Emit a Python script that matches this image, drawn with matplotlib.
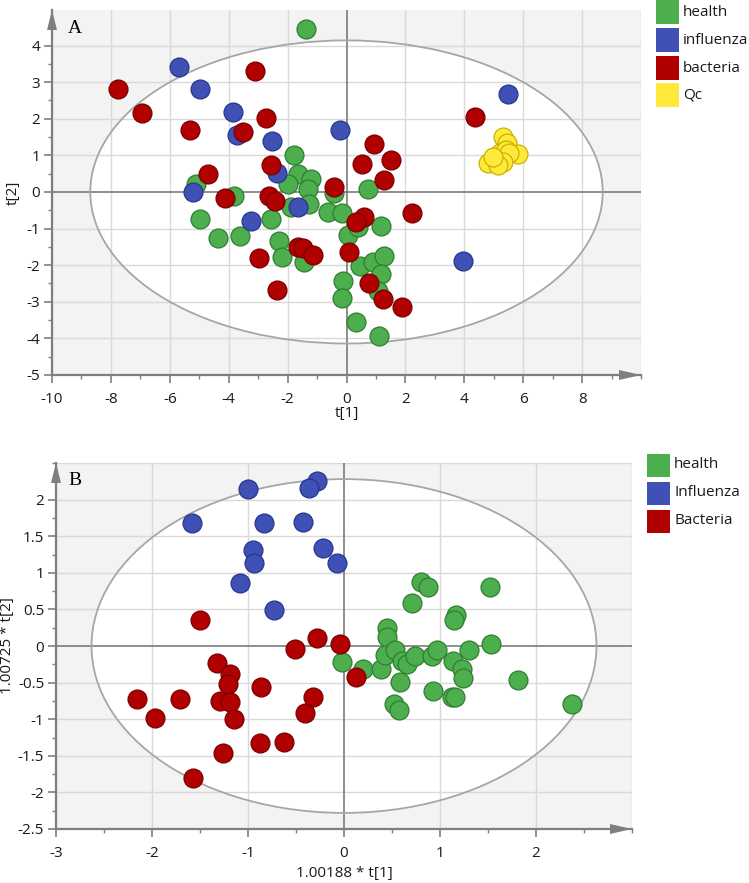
import matplotlib
matplotlib.use("Agg")
import matplotlib.pyplot as plt
import numpy as np
from matplotlib.patches import Ellipse, Polygon, Rectangle
from matplotlib.transforms import ScaledTranslation
from matplotlib.ticker import MultipleLocator, FuncFormatter

plt.rcParams['font.family'] = ['Open Sans', 'DejaVu Sans']

# ---------------- Panel A data ----------------
a_health_x = [-1.37, -1.79, -1.65, -1.20, -1.99, -1.31, -1.26, -1.90, -5.10, -3.82, -4.96, -4.37,
              -3.60, -2.56, -2.29, -2.19, -1.43, -0.63, -0.15, -0.44, 0.72, 0.05, 0.38, 1.18,
              0.47, 0.89, 1.29, 1.18, -0.11, 1.06, -0.16, 0.31, 1.10]
a_health_y = [4.45, 1.01, 0.49, 0.35, 0.21, 0.08, -0.32, -0.41, 0.21, -0.12, -0.74, -1.25,
              -1.19, -0.74, -1.33, -1.77, -1.90, -0.54, -0.58, -0.02, 0.09, -1.17, -0.97, -0.92,
              -2.03, -1.91, -1.75, -2.23, -2.42, -2.70, -2.89, -3.56, -3.93]

a_influenza_x = [-5.69, -4.96, -3.86, -3.71, -2.52, -2.35, -5.22, -3.24, -1.63, -0.21, 5.48, 3.95]
a_influenza_y = [3.40, 2.81, 2.18, 1.56, 1.39, 0.51, 0.00, -0.79, -0.42, 1.69, 2.68, -1.89]

a_bacteria_x = [-7.77, -6.94, -5.33, -3.12, -3.52, -2.73, -4.71, -4.12, -2.56, -2.64, -2.44,
                -2.98, -2.35, -1.65, -1.48, -1.14, -0.41, 0.10, 0.58, 0.31, 4.37, 0.93, 0.52,
                1.52, 1.29, 2.22, 0.78, 1.25, 1.87]
a_bacteria_y = [2.81, 2.17, 1.68, 3.31, 1.64, 2.03, 0.50, -0.16, 0.74, -0.12, -0.26,
                -1.80, -2.68, -1.50, -1.52, -1.72, 0.13, -1.63, -0.69, -0.83, 2.05, 1.30, 0.76,
                0.88, 0.33, -0.58, -2.50, -2.93, -3.13]

a_qc_x = [5.31, 5.45, 5.82, 4.80, 5.08, 5.20, 5.40, 5.53, 5.31, 5.14, 4.97]
a_qc_y = [1.51, 1.35, 1.03, 0.78, 0.89, 1.06, 1.15, 1.06, 0.83, 0.74, 0.96]

a_labels = ["health", "influenza", "bacteria", "Qc"]

# ---------------- Panel B data ----------------
b_health_x = [0.80, 0.87, 0.71, 1.52, 1.17, 1.15, 0.45, 0.45, 1.53, -0.02, 0.20, 0.39,
              0.43, 0.53, 0.60, 0.66, 0.74, 0.92, 0.97, 1.14, 1.23, 1.24, 1.30, 0.58,
              0.93, 1.13, 1.16, 0.52, 0.57, 1.81, 2.38]
b_health_y = [0.88, 0.81, 0.59, 0.81, 0.43, 0.35, 0.24, 0.12, 0.03, -0.22, -0.31, -0.31,
              -0.12, -0.06, -0.20, -0.24, -0.14, -0.13, -0.06, -0.20, -0.31, -0.44, -0.06, -0.49,
              -0.62, -0.69, -0.69, -0.79, -0.87, -0.47, -0.79]

b_influenza_x = [-1.00, -0.28, -0.36, -1.58, -0.83, -0.43, -0.95, -0.94, -0.22, -0.07, -1.08, -0.73]
b_influenza_y = [2.14, 2.26, 2.16, 1.68, 1.68, 1.70, 1.31, 1.13, 1.34, 1.13, 0.86, 0.49]

b_bacteria_x = [-1.50, -0.28, -0.51, -0.04, 0.12, -1.32, -1.19, -1.21, -0.86, -0.32, -0.41,
                -2.16, -1.71, -1.29, -1.19, -1.97, -1.15, -0.87, -0.62, -1.26, -1.57]
b_bacteria_y = [0.36, 0.11, -0.04, 0.03, -0.43, -0.23, -0.38, -0.52, -0.56, -0.69, -0.92,
                -0.73, -0.73, -0.75, -0.76, -0.98, -1.00, -1.33, -1.31, -1.46, -1.80]

b_labels = ["health", "Influenza", "Bacteria"]

# ---------------- styles ----------------
FILL = {"g": "#4cae4c", "b": "#3f51b5", "r": "#b00000", "y": "#ffe93a"}
EDGE = {"g": "#2f7d32", "b": "#28358f", "r": "#7a0000", "y": "#c9b200"}
AXIS_GRAY = "#7f7f7f"
BG = "#f3f3f3"
GRID = "#d9d9d9"
TXT = "#1a1a1a"
FS = 11
W, H = 749, 883

fig = plt.figure(figsize=(W / 100, H / 100), dpi=100)


def px_axes(l, t, r, b):
    return fig.add_axes([l / W, 1 - b / H, (r - l) / W, (b - t) / H])


def style_axes(ax, xlim, ylim, xmaj, xmin, ymaj, ymin, ellipse_w, ellipse_h, xfmt, yfmt,
               xticks, yticks):
    ax.set_xlim(*xlim)
    ax.set_ylim(*ylim)
    ax.set_facecolor(BG)
    ax.add_patch(Ellipse((0, 0), 2 * ellipse_w, 2 * ellipse_h, facecolor="white",
                         edgecolor="none", zorder=0.2))
    ax.add_patch(Ellipse((0, 0), 2 * ellipse_w, 2 * ellipse_h, facecolor="none",
                         edgecolor="#a6a6a6", lw=1.3, zorder=0.8))
    ax.set_axisbelow(True)
    ax.set_xticks(xticks)
    ax.set_yticks(yticks)
    ax.xaxis.set_minor_locator(MultipleLocator(xmin))
    ax.yaxis.set_minor_locator(MultipleLocator(ymin))
    ax.xaxis.set_major_formatter(FuncFormatter(xfmt))
    ax.yaxis.set_major_formatter(FuncFormatter(yfmt))
    # grid lines
    for v in np.arange(xlim[0], xlim[1] + 1e-9, xmaj):
        if abs(v) > 1e-9:
            ax.axvline(v, color=GRID, lw=1.0, zorder=0.5)
    for v in np.arange(ylim[0], ylim[1] + 1e-9, ymaj):
        if abs(v) > 1e-9:
            ax.axhline(v, color=GRID, lw=1.0, zorder=0.5)
    ax.axvline(0, color="#707070", lw=1.1, zorder=0.6)
    ax.axhline(0, color="#707070", lw=1.1, zorder=0.6)
    for s in ("top", "right"):
        ax.spines[s].set_visible(False)
    for s in ("left", "bottom"):
        ax.spines[s].set_color(AXIS_GRAY)
        ax.spines[s].set_linewidth(1.6)
    ax.tick_params(which="major", length=5.5, width=1.2, color=AXIS_GRAY,
                   labelsize=FS, labelcolor=TXT)
    ax.tick_params(axis="y", which="major", pad=3)
    ax.tick_params(axis="x", which="major", pad=7)
    ax.tick_params(which="minor", length=3, width=1.0, color=AXIS_GRAY)
    # arrows
    tr_top = fig.dpi_scale_trans + ScaledTranslation(0, 1, ax.transAxes)
    ax.add_patch(Polygon([(-0.05, -0.20), (0.05, -0.20), (0.0, 0.0)], closed=True,
                         transform=tr_top, facecolor=AXIS_GRAY, edgecolor="none",
                         clip_on=False, zorder=5))
    tr_right = fig.dpi_scale_trans + ScaledTranslation(1, 0, ax.transAxes)
    ax.add_patch(Polygon([(-0.22, -0.05), (-0.22, 0.05), (0.0, 0.0)], closed=True,
                         transform=tr_right, facecolor=AXIS_GRAY, edgecolor="none",
                         clip_on=False, zorder=5))


def intfmt(v, pos):
    return "%d" % round(v)


def halffmt(v, pos):
    if abs(v - round(v)) < 1e-9:
        return "%d" % round(v)
    return ("%.1f" % v)


MS = 185


def scatter(ax, x, y, k):
    ax.scatter(x, y, s=MS, facecolor=FILL[k], edgecolor=EDGE[k], linewidth=0.9, zorder=3)


# ---------------- Panel A ----------------
axA = px_axes(52, 10, 641, 375)
style_axes(axA, (-10, 10), (-5, 4.97), 2, 1, 1, 0.5, 8.7, 4.14, intfmt, intfmt,
           np.arange(-10, 9, 2), np.arange(-5, 5, 1))
scatter(axA, a_health_x, a_health_y, "g")
scatter(axA, a_influenza_x, a_influenza_y, "b")
scatter(axA, a_bacteria_x, a_bacteria_y, "r")
scatter(axA, a_qc_x, a_qc_y, "y")
axA.set_xlabel("t[1]", fontsize=FS, color=TXT, labelpad=-1)
axA.set_ylabel("t[2]", fontsize=FS, color=TXT, labelpad=4)
axA.text(0.026, 0.972, "A", transform=axA.transAxes, family="Liberation Serif",
         fontsize=14, va="top", ha="left", color="black", zorder=6)

# ---------------- Panel B ----------------
axB = px_axes(56, 463, 632, 829)
style_axes(axB, (-3, 3), (-2.5, 2.5), 1, 0.5, 0.5, 0.25, 2.63, 2.28, intfmt, halffmt,
           np.arange(-3, 3, 1), np.arange(-2.5, 2.01, 0.5))
scatter(axB, b_health_x, b_health_y, "g")
scatter(axB, b_influenza_x, b_influenza_y, "b")
scatter(axB, b_bacteria_x, b_bacteria_y, "r")
axB.set_xlabel("1.00188 * t[1]", fontsize=FS, color=TXT, labelpad=3)
axB.set_ylabel("1.00725 * t[2]", fontsize=FS, color=TXT, labelpad=2)
axB.text(0.021, 0.975, "B", transform=axB.transAxes, family="Liberation Serif",
         fontsize=14, va="top", ha="left", color="black", zorder=6)


# ---------------- Legends ----------------
def legend(x0, yc_list, labels, keys):
    for yc, lab, k in zip(yc_list, labels, keys):
        fig.patches.append(Rectangle((x0 / W, 1 - (yc + 11.5) / H), 23 / W, 23 / H,
                                     transform=fig.transFigure, facecolor=FILL[k],
                                     edgecolor="none", zorder=5))
        fig.text((x0 + 27) / W, 1 - yc / H, lab, fontsize=FS, color=TXT,
                 va="center", ha="left")


legend(656, [12, 40, 68, 95], a_labels, ["g", "b", "r", "y"])
legend(647, [465, 493, 521], b_labels, ["g", "b", "r"])

fig.savefig("out.png", dpi=100)
